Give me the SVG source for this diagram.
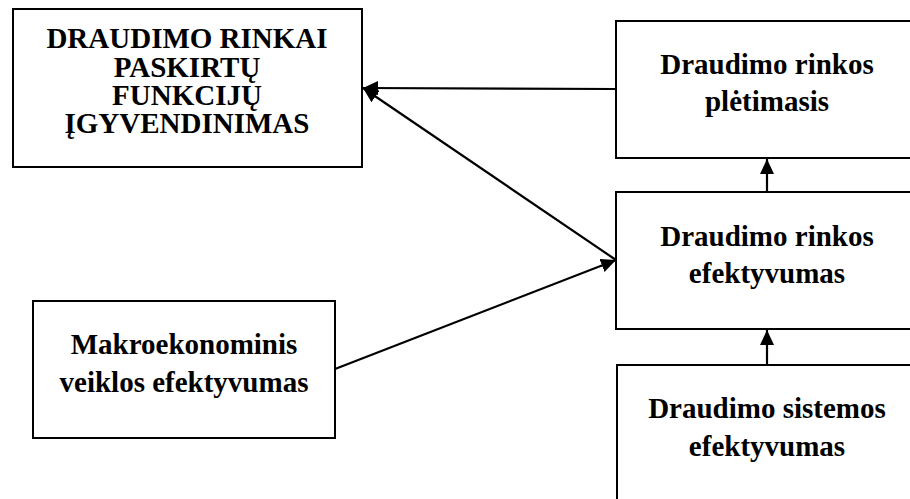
<svg xmlns="http://www.w3.org/2000/svg" width="910" height="499" viewBox="0 0 910 499">
<defs>
<style>
.box{fill:#fff;stroke:#000;stroke-width:2}
.t{font-family:"Liberation Serif","Times New Roman",serif;font-weight:bold;font-size:29px;fill:#000;text-anchor:middle}
.c{stroke:#000;stroke-width:2.2;fill:none;marker-end:url(#ah)}
</style>
<marker id="ah" viewBox="0 0 15 14" refX="15" refY="7" markerWidth="15" markerHeight="14" markerUnits="userSpaceOnUse" orient="auto">
<path d="M0,0 L15,7 L0,14 Z" fill="#000"/>
</marker>
</defs>
<rect width="910" height="499" fill="#fff"/>
<g id="n1">
<rect class="box" x="13" y="9" width="349" height="158"/>
<text class="t" x="187" y="48">DRAUDIMO RINKAI</text>
<text class="t" x="187" y="77">PASKIRTŲ</text>
<text class="t" x="187" y="105">FUNKCIJŲ</text>
<text class="t" x="187" y="133">ĮGYVENDINIMAS</text>
</g>
<g id="n2">
<rect class="box" x="616" y="21" width="300" height="137"/>
<text class="t" x="767" y="74">Draudimo rinkos</text>
<text class="t" x="767" y="111">plėtimasis</text>
</g>
<g id="n3">
<rect class="box" x="616" y="192" width="300" height="137"/>
<text class="t" x="767" y="246">Draudimo rinkos</text>
<text class="t" x="767" y="283">efektyvumas</text>
</g>
<g id="n4">
<rect class="box" x="617" y="365" width="300" height="150"/>
<text class="t" x="767" y="418">Draudimo sistemos</text>
<text class="t" x="767" y="456">efektyvumas</text>
</g>
<g id="n5">
<rect class="box" x="33" y="301" width="302" height="137"/>
<text class="t" x="184" y="354">Makroekonominis</text>
<text class="t" x="184" y="392">veiklos efektyvumas</text>
</g>
<g id="connectors">
<line class="c" x1="616" y1="89" x2="363" y2="88"/>
<line class="c" x1="616" y1="260" x2="363" y2="88"/>
<line class="c" x1="335" y1="369" x2="616" y2="260"/>
<line class="c" x1="767" y1="192" x2="767" y2="159"/>
<line class="c" x1="767" y1="365" x2="767" y2="330"/>
</g>
</svg>
